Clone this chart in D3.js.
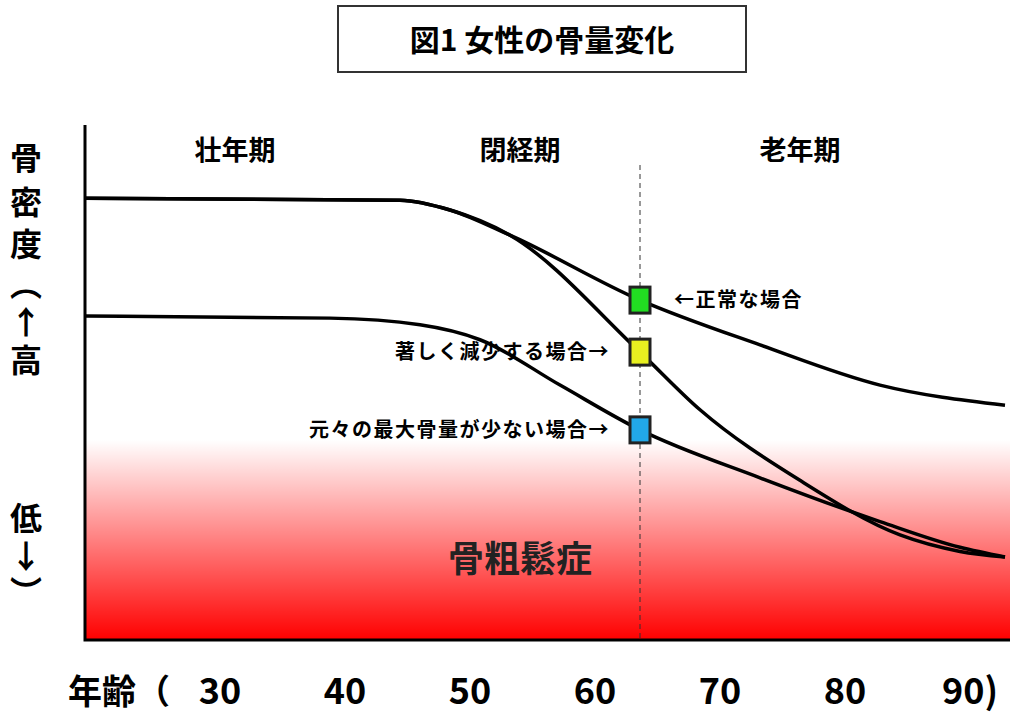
<!DOCTYPE html><html><head><meta charset="utf-8">
<script src="https://cdn.jsdelivr.net/npm/d3@7"></script>
<style>body{margin:0;background:#fff}text{font-family:"Noto Sans CJK JP",sans-serif;font-weight:bold}</style></head><body>
<svg id="c" width="1028" height="720"></svg>
<script>
const xTicks=[30,40,50,60,70,80,90];
const normal=[[19.2,85.8],[44.4,85.4],[48.4,83.5],[53.2,78.6],[63.6,66.0],[73.2,57.3],[82.8,49.5],[92.8,45.6]];
const severe=[[19.2,85.8],[44.4,85.4],[48.4,83.5],[53.2,78.6],[63.6,55.9],[68.4,44.7],[76.4,31.0],[84.4,20.4],[89.2,17.2],[92.8,16.1]];
const lowPeak=[[19.2,62.9],[38.8,62.5],[46,61.2],[50.8,58.3],[57.2,49.5],[63.6,40.8],[73.2,31.5],[82.8,23.0],[89.2,18.0],[92.8,16.1]];
const markers=[{age:63.6,v:66.0,c:"#22dd22",label:"←正常な場合",side:"r"},{age:63.6,v:55.9,c:"#e8f020",label:"著しく減少する場合→",side:"l"},{age:63.6,v:40.8,c:"#22a8e8",label:"元々の最大骨量が少ない場合→",side:"l"}];
const periods=[{t:"壮年期",age:31.2},{t:"閉経期",age:54},{t:"老年期",age:76.4}];
const svg=d3.select("#c");
const x=d3.scaleLinear().domain([30,90]).range([220,970]);
const y=d3.scaleLinear().domain([0,100]).range([640,125]);
const defs=svg.append("defs");
const g=defs.append("linearGradient").attr("id","rg").attr("x1",0).attr("x2",0).attr("y1",0).attr("y2",1);
g.append("stop").attr("offset","0").attr("stop-color","#ff0000").attr("stop-opacity",0);
g.append("stop").attr("offset","1").attr("stop-color","#ff0000").attr("stop-opacity",1);
svg.append("rect").attr("x",x(19.2)).attr("y",440).attr("width",x(93.2)-x(19.2)).attr("height",200).attr("fill","url(#rg)");
svg.append("path").attr("d",`M${x(19.2)},${y(100)}V${y(0)}H${x(93.2)}`).attr("fill","none").attr("stroke","#000").attr("stroke-width",3);
svg.append("line").attr("x1",x(63.6)).attr("x2",x(63.6)).attr("y1",165).attr("y2",y(0)).attr("stroke","#333").attr("stroke-dasharray","5,4");
const line=d3.line().x(d=>x(d[0])).y(d=>y(d[1])).curve(d3.curveMonotoneX);
[severe,lowPeak,normal].forEach(s=>svg.append("path").attr("d",line(s)).attr("fill","none").attr("stroke","#000").attr("stroke-width",3.5));
markers.forEach(m=>{svg.append("rect").attr("x",x(m.age)-10).attr("y",y(m.v)-13).attr("width",20).attr("height",26).attr("fill",m.c).attr("stroke","#222").attr("stroke-width",3);
svg.append("text").attr("x",m.side=="r"?x(m.age)+34:x(m.age)-30).attr("y",y(m.v)+7).attr("text-anchor",m.side=="r"?"start":"end").attr("font-size",20).attr("letter-spacing",1.5).text(m.label);});
periods.forEach(p=>svg.append("text").attr("x",x(p.age)).attr("y",160).attr("text-anchor","middle").attr("font-size",27).text(p.t));
svg.append("text").attr("x",520).attr("y",572).attr("text-anchor","middle").attr("font-size",36).attr("fill","#222").text("骨粗鬆症");
svg.append("rect").attr("x",338).attr("y",6).attr("width",408).attr("height",66).attr("fill","#fff").attr("stroke","#333").attr("stroke-width",2);
svg.append("text").attr("x",542).attr("y",51).attr("text-anchor","middle").attr("font-size",30).text("図1  女性の骨量変化");
xTicks.forEach(t=>svg.append("text").attr("x",x(t)).attr("y",704).attr("text-anchor","middle").attr("font-size",36).attr("font-family","Liberation Sans").text(t==90?"90)":t));
svg.append("text").attr("x",68).attr("y",704).attr("font-size",34).text("年齢（");
[["骨",170],["密",214],["度",256],["︵",296],["↑",334],["高",372],["低",530],["↓",568],["︶",604]].forEach(([c,yy])=>svg.append("text").attr("x",26).attr("y",yy).attr("text-anchor","middle").attr("font-size",32).text(c));
</script></body></html>
